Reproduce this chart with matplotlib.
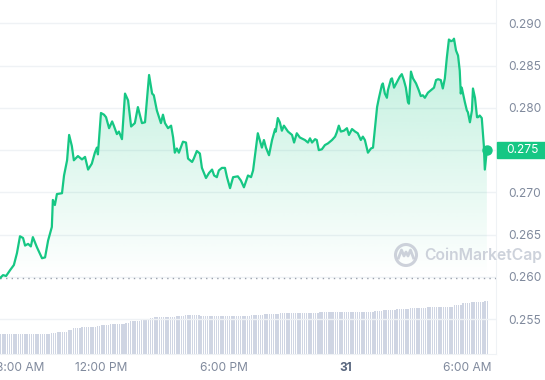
import numpy as np
import pandas as pd
import matplotlib
matplotlib.use("Agg")
import matplotlib.pyplot as plt
import matplotlib.dates as mdates
from matplotlib.patches import Rectangle, Circle
from matplotlib.transforms import blended_transform_factory, IdentityTransform

plt.rcParams['font.family'] = ['Inter', 'DejaVu Sans']

# price, minutes after 7:00 AM on the 30th
minutes = [0, 9, 18, 30, 41, 50, 59, 68, 74, 83, 91, 97, 109, 124, 133, 142, 153, 156, 162, 168,
           183, 189, 198, 204, 212, 218, 230, 242, 251, 260, 271, 280, 286, 289, 298, 307, 313, 322, 331, 336,
           345, 351, 360, 369, 378, 387, 398, 407, 419, 428, 440, 449, 454, 463, 475, 481, 487, 496, 505, 511,
           516, 522, 528, 540, 549, 555, 567, 572, 581, 590, 596, 608, 617, 626, 632, 640, 646, 655, 664, 670,
           679, 688, 702, 711, 720, 732, 741, 747, 761, 773, 779, 785, 794, 803, 812, 814, 820, 826, 832, 838,
           850, 862, 868, 876, 885, 900, 909, 915, 921, 930, 935, 941, 950, 959, 968, 980, 989, 994, 1000, 1006,
           1015, 1024, 1030, 1039, 1048, 1056, 1065, 1071, 1077, 1086, 1095, 1101, 1107, 1113, 1118, 1127, 1130, 1136, 1142, 1145,
           1154, 1157, 1163, 1172, 1180, 1186, 1192, 1198, 1204, 1207, 1213, 1219, 1228, 1236, 1242, 1248, 1254, 1263, 1275, 1281,
           1287, 1293, 1301, 1307, 1313, 1319, 1325, 1331, 1337, 1340, 1346, 1352, 1357, 1360, 1363, 1372, 1378, 1381, 1387, 1393,
           1396, 1402, 1408, 1411, 1416, 1422, 1428, 1431, 1437]
price = [0.25985, 0.2602, 0.2601, 0.2608, 0.2614, 0.2628, 0.2648, 0.2646, 0.2637, 0.2639, 0.2636, 0.2647, 0.2635, 0.2622, 0.2623, 0.2643, 0.2659, 0.2691, 0.2685, 0.2698,
         0.2699, 0.2720, 0.2738, 0.2768, 0.2755, 0.2738, 0.2743, 0.2739, 0.2742, 0.2727, 0.2734, 0.2747, 0.2753, 0.2745, 0.2794, 0.2792, 0.2789, 0.2776, 0.2784, 0.2779,
         0.2769, 0.2772, 0.2763, 0.2817, 0.2809, 0.2778, 0.2782, 0.2801, 0.2782, 0.2783, 0.2839, 0.2817, 0.2815, 0.2797, 0.2782, 0.2792, 0.2782, 0.2776, 0.2779, 0.2765,
         0.2747, 0.2752, 0.2747, 0.2760, 0.2759, 0.2740, 0.2736, 0.2740, 0.2749, 0.2746, 0.2729, 0.2717, 0.2723, 0.2727, 0.2720, 0.2718, 0.2726, 0.2729, 0.2729, 0.2718,
         0.2705, 0.2718, 0.2719, 0.2714, 0.2706, 0.2720, 0.2718, 0.2726, 0.2770, 0.2753, 0.2762, 0.2753, 0.2744, 0.2762, 0.2775, 0.2772, 0.2788, 0.2783, 0.2773, 0.2779,
         0.2772, 0.2768, 0.2759, 0.2770, 0.2765, 0.2762, 0.2759, 0.2764, 0.2759, 0.2763, 0.2762, 0.2750, 0.2751, 0.2756, 0.2758, 0.2762, 0.2766, 0.2771, 0.2779, 0.2772,
         0.2773, 0.2776, 0.2768, 0.2775, 0.2772, 0.2770, 0.2762, 0.2766, 0.2762, 0.2747, 0.2752, 0.2753, 0.2777, 0.2801, 0.2811, 0.2827, 0.2829, 0.2817, 0.2812, 0.2821,
         0.2834, 0.2835, 0.2824, 0.2831, 0.2837, 0.2840, 0.2833, 0.2824, 0.2807, 0.2805, 0.2843, 0.2835, 0.2829, 0.2821, 0.2814, 0.2815, 0.2812, 0.2818, 0.2822, 0.2824,
         0.2833, 0.2834, 0.2833, 0.2823, 0.2835, 0.2860, 0.2881, 0.2879, 0.2880, 0.2882, 0.2868, 0.2862, 0.2844, 0.2817, 0.2824, 0.2807, 0.2797, 0.2795, 0.2783, 0.2797,
         0.2823, 0.2812, 0.2789, 0.2789, 0.2791, 0.2788, 0.2756, 0.2727, 0.2750]

# volume levels (relative) and the minute each level starts
vol_start = [0, 148, 171, 201, 212, 242, 286, 301, 325, 369, 384, 413, 443, 457, 516, 546, 590, 738, 782, 826,
             944, 1107, 1130, 1172, 1210, 1263, 1322, 1337, 1366, 1387, 1428]
vol_level = [20, 21, 22, 24.3, 26, 27, 28, 29, 30, 31, 32.7, 34, 35.7, 36.7, 38, 38.7, 37.7, 39, 40, 41,
             42, 43, 44, 45, 46, 46.7, 47.3, 49, 50.7, 52, 53]

yticks = [0.255, 0.260, 0.265, 0.270, 0.275, 0.280, 0.285, 0.290]
xtick_times = ["2023-10-30 08:00", "2023-10-30 12:00", "2023-10-30 18:00", "2023-10-31 00:00", "2023-10-31 06:00"]
xtick_labels = ["8:00 AM", "12:00 PM", "6:00 PM", "31", "6:00 AM"]
last_label = "0.275"

green = "#16c784"
gray_txt = "#808a9d"

t0 = pd.Timestamp("2023-10-30 07:00")
times = mdates.date2num(t0 + pd.to_timedelta(minutes, unit="m"))
open_price = price[0]

fig = plt.figure(figsize=(5.45, 3.8), dpi=100)
rect = [0, 26 / 380, 496 / 545, 354 / 380]
axv = fig.add_axes(rect)
ax = fig.add_axes(rect, sharex=axv)
ax.patch.set_alpha(0)

x0 = times[0]
x1 = mdates.date2num(t0 + pd.Timedelta(minutes=1464))

# volume bars
bar_min = np.arange(2, 1440, 6.5)
idx = np.searchsorted(vol_start, bar_min, side="right") - 1
bar_h = np.array(vol_level)[idx]
bar_t = mdates.date2num(t0 + pd.to_timedelta(bar_min, unit="m"))
axv.bar(bar_t, bar_h, width=4.2 / 1440, color="#cfd5e3", linewidth=0)
axv.set_ylim(0, 354)
axv.axis("off")

# price
for y in yticks:
    ax.axhline(y, color="#eff2f5", lw=1, zorder=0)
ax.axhline(open_price, color="#9aa1ad", lw=1, ls=(0, (1, 3)), zorder=1)

poly = ax.fill_between(times, price, open_price, color="none", lw=0)
grad = np.linspace(0, 1, 256).reshape(-1, 1)
cols = np.zeros((256, 1, 4))
cols[..., :3] = matplotlib.colors.to_rgb(green)
cols[..., 3] = grad * 0.28
im = ax.imshow(cols, extent=[x0, times[-1], open_price, 0.2885], origin="lower",
               aspect="auto", zorder=1)
im.set_clip_path(poly.get_paths()[0], transform=ax.transData)
ax.set_xlim(x0, x1)
ax.set_ylim(0.25086, 0.29278)

ax.plot(times, price, color=green, lw=1.6, zorder=3, solid_joinstyle="round")
ax.plot(times[-1], price[-1], "o", color=green, ms=6.5, zorder=4)

ax.yaxis.tick_right()
ax.set_yticks(yticks)
ax.set_yticklabels(["" if f"{v:.3f}" == last_label else f"{v:.3f}" for v in yticks])
ax.tick_params(axis="y", length=0, pad=9, labelsize=8.6, labelcolor=gray_txt)
ax.set_xticks(mdates.date2num(pd.to_datetime(xtick_times)))
ax.set_xticklabels(xtick_labels)
ax.tick_params(axis="x", length=0, pad=6, labelsize=8.6, labelcolor=gray_txt)
lab31 = ax.get_xticklabels()[3]
lab31.set_fontweight("bold")
lab31.set_color("#58667e")

for s in ["top", "left"]:
    ax.spines[s].set_visible(False)
ax.spines["right"].set_color("#eff2f5")
ax.spines["bottom"].set_color("#eff2f5")

# last price badge
tr = blended_transform_factory(ax.transAxes, ax.transData)
ax.add_patch(Rectangle((1.002, 0.275 - 0.00098), 0.2, 0.00196, transform=tr,
                       color=green, clip_on=False, zorder=5))
ax.text(1.0 + 10 / 496, 0.275, last_label, transform=tr, color="white", fontsize=8.6,
        va="center", ha="left", zorder=6)

# watermark
wm = "#c8cdd7"
ident = IdentityTransform()
fig.patches.append(Circle((406, 380 - 255), 10.5, transform=ident, fill=False,
                          edgecolor=wm, lw=2.2, alpha=0.9))
wx = [398.5, 401.5, 404, 406, 408, 410.5, 413.5]
wy = [380 - 258, 380 - 250, 380 - 256, 380 - 252, 380 - 256, 380 - 250, 380 - 258]
fig.lines.append(matplotlib.lines.Line2D(wx, wy, transform=ident, color=wm, lw=2.0, alpha=0.9))
fig.text(424, 380 - 255, "CoinMarketCap", transform=ident, color=wm, fontsize=11.3,
         fontweight="semibold", va="center", ha="left", alpha=0.9, zorder=10)

fig.savefig("out.png", dpi=100)
